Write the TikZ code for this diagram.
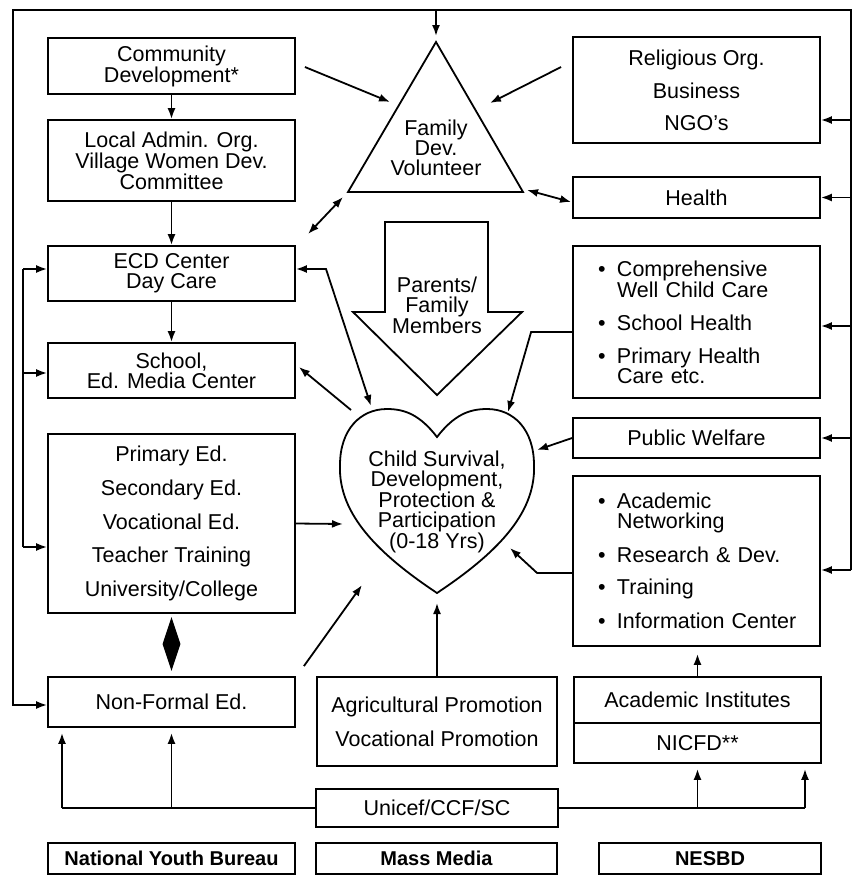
\documentclass[tikz,border=0pt]{standalone}
\usepackage{fontspec}
\setmainfont{Liberation Sans}
\usetikzlibrary{arrows.meta,shapes.geometric,calc}
\newcommand{\mybul}{\hspace*{21.5pt}\makebox[19pt][l]{\textbullet}}
\newcommand{\myind}{\hspace*{40.5pt}}
\begin{document}
\begin{tikzpicture}[x=1pt,y=-1pt,
  every node/.style={font=\fontsize{21.5}{20}\selectfont},
  box/.style={draw,line width=1.8pt,inner sep=0pt,align=center,minimum width=247pt},
  ln/.style={line width=1.8pt,line join=miter},
  arr/.style={ln,-{Latex[length=11pt,width=8pt]}},
  darr/.style={ln,{Latex[length=11pt,width=8pt]}-{Latex[length=11pt,width=8pt]}},
  boldtxt/.style={font=\fontsize{20}{20}\selectfont\bfseries}
]
\useasboundingbox (0,0) rectangle (853,876);

% left column
\node[box,minimum height=56pt] (cd) at (171.5,66) {Community\\Development*};
\node[box,minimum height=81pt] (la) at (171.5,160.5) {Local Admin. Org.\\Village Women Dev.\\Committee};
\node[box,minimum height=55pt] (ecd) at (171.5,273.5) {ECD Center\\Day Care};
\node[box,minimum height=55pt] (school) at (171.5,370.5) {School,\\Ed. Media Center};
\node[box,minimum height=179pt] (prim) at (171.5,523.5) {Primary Ed.\\[13pt]Secondary Ed.\\[13pt]Vocational Ed.\\[13pt]Teacher Training\\[13pt]University/College};
\node[diamond,fill,inner sep=0pt,minimum width=18pt,minimum height=54pt] (dia) at (171.5,644) {};
\node[box,minimum height=50pt] (nfe) at (171.5,702) {Non-Formal Ed.};
\node[box,boldtxt,minimum height=31pt] (nyb) at (171.5,858.5) {National Youth Bureau};

% middle column
\node[box,minimum width=240pt,minimum height=89pt] (ag) at (437,721.5) {Agricultural Promotion\\[13pt]Vocational Promotion};
\node[box,minimum width=242pt,minimum height=38pt] (un) at (437,808) {Unicef/CCF/SC};
\node[box,boldtxt,minimum width=241pt,minimum height=31pt] (mm) at (436.5,858.5) {Mass Media};

% right column
\node[box,minimum height=106pt] (rel) at (696.5,90) {Religious Org.\\[12pt]Business\\[12pt]NGO's};
\node[box,minimum height=41pt] (health) at (696.5,197.5) {Health};
\node[box,align=left,text width=240pt,inner xsep=3.5pt,minimum height=152pt] (comp) at (696.5,322)
  {\mybul Comprehensive\\\myind Well Child Care\\[13pt]\mybul School Health\\[13pt]\mybul Primary Health\\\myind Care etc.};
\node[box,minimum height=40pt] (pw) at (696.5,438) {Public Welfare};
\node[box,align=left,text width=240pt,inner xsep=3.5pt,minimum height=170pt] (acad) at (696.5,561)
  {\mybul Academic\\\myind Networking\\[13pt]\mybul Research \& Dev.\\[12pt]\mybul Training\\[13pt]\mybul Information Center};
\node[box,minimum height=46pt] (ai) at (697.5,700) {Academic Institutes};
\node[box,minimum height=40pt] (nicfd) at (697.5,743) {NICFD**};
\node[box,boldtxt,minimum width=222pt,minimum height=31pt] (nesbd) at (710,858.5) {NESBD};

% triangle
\coordinate (tA) at (436,42);
\coordinate (tR) at (523,192);
\coordinate (tL) at (348,192);
\draw[ln] (tA) -- (tR) -- (tL) -- cycle;
\node[align=center] (fdv) at (436,148) {Family\\Dev.\\Volunteer};

% big arrow
\draw[ln] (385,222) -- (488,222) -- (488,312) -- (522,312) -- (437,395) -- (353,312) -- (385,312) -- cycle;
\node[align=center] (pfm) at (437,305) {Parents/\\Family\\Members};

% heart
\draw[ln] (437,437) .. controls (420,415) and (405,409) .. (387,409)
  .. controls (360,409) and (340,430) .. (340,465)
  .. controls (338,515) and (380,555) .. (437,593)
  .. controls (494,555) and (536,515) .. (534,465)
  .. controls (534,430) and (514,409) .. (487,409)
  .. controls (469,409) and (454,415) .. (437,437) -- cycle;
\node[align=center] (heart) at (437,502) {Child Survival,\\Development,\\Protection \&\\Participation\\(0-18 Yrs)};

% outer loop
\coordinate (tl) at (13,10);
\coordinate (tr) at (851,10);
\coordinate (br) at (851,570);
\draw[arr] (br) -- (tr) -- (tl) |- ($(nfe.west)+(0,3)$);
\draw[arr] (tA |- tl) -- ($(tA)+(0,-6)$);
\draw[arr] ($(rel.east)+(31,30)$) -- ($(rel.east)+(0,30)$);
\draw[arr] ($(health.east)+(31,0)$) -- (health.east);
\draw[arr] ($(comp.east)+(31,4)$) -- ($(comp.east)+(0,4)$);
\draw[arr] ($(pw.east)+(31,0)$) -- (pw.east);
\draw[arr] (br) -- ($(acad.east)+(0,9)$);

% left bracket
\coordinate (b1) at (23,269);
\coordinate (b2) at (23,373);
\coordinate (b3) at (23,547);
\draw[ln] (b1) -- (b3);
\draw[arr] (b1) -- (ecd.west |- b1);
\draw[arr] (b2) -- (school.west |- b2);
\draw[arr] (b3) -- (prim.west |- b3);

% vertical chain
\draw[arr] (cd.south) -- (la.north);
\draw[arr] (la.south) -- (ecd.north);
\draw[arr] (ecd.south) -- (school.north);

% triangle links
\coordinate (c1) at (390,102);
\coordinate (c2) at (490,103);
\coordinate (c3) at (527,190);
\coordinate (c4) at (343,197);
\coordinate (c5) at (308,234);
\draw[arr] ($(cd.east)+(9,1)$) -- (c1);
\draw[arr] ($(rel.west)+(-11,-23)$) -- (c2);
\draw[darr] (c3) -- ($(health.west)+(-1,4.5)$);
\draw[darr] (c4) -- (c5);

% heart links
\coordinate (c6) at (326,269);
\coordinate (h1) at (371,406);
\coordinate (h2) at (508,412);
\coordinate (h3) at (351,410);
\coordinate (h4) at (537,450);
\coordinate (h5) at (510,548);
\coordinate (h6) at (343,524);
\coordinate (h7) at (362,585);
\coordinate (h8) at (437,603);
\draw[darr] ($(ecd.east)+(0,-4.5)$) -- (c6) -- (h1);
\draw[arr] (h3) -- ($(school.east)+(3,-3.5)$);
\draw[arr] ($(comp.west)+(0,10)$) -- ++(-41,0) -- (h2);
\draw[arr] (pw.west) -- (h4);
\draw[arr] ($(acad.west)+(0,12)$) -- ++(-35,0) -- (h5);
\draw[arr] (prim.east) -- (h6);
\draw[arr] ($(nfe.north east)+(8,-10)$) -- (h7);
\draw[arr] (ag.north) -- (h8);
\draw[arr] (ai.north) -- ($(acad.south)+(1,7)$);

% unicef links
\coordinate (u1) at (62,808);
\coordinate (u2) at (171.5,808);
\coordinate (u3) at (697.5,808);
\coordinate (u4) at (805,808);
\draw[ln] (un.west) -- (u1);
\draw[arr] (u1) -- ($(nfe.south -| u1)+(0,5)$);
\draw[arr] (u2) -- ($(nfe.south)+(0,5)$);
\draw[ln] (un.east) -- (u4);
\draw[arr] (u3) -- ($(nicfd.south)+(0,5)$);
\draw[arr] (u4) -- ($(nicfd.south -| u4)+(0,5)$);
\end{tikzpicture}
\end{document}
